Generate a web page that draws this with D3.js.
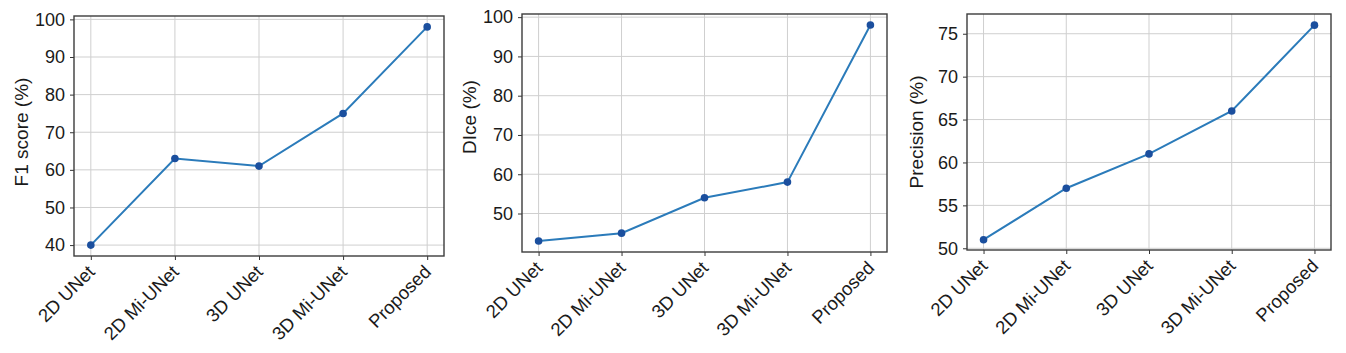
<!DOCTYPE html>
<html><head><meta charset="utf-8">
<script src="https://cdn.jsdelivr.net/npm/d3@7"></script>
<style>body{margin:0;background:#fff}svg{display:block}text{font-family:"Liberation Sans",Arial,sans-serif;fill:#1a1a1a}</style>
</head><body><svg id="c" width="1346" height="353"></svg>
<script>
const categories = ["2D UNet","2D Mi-UNet","3D UNet","3D Mi-UNet","Proposed"];
const f1Values = [40, 63, 61, 75, 98];
const diceValues = [43, 45, 54, 58, 98];
const precisionValues = [51, 57, 61, 66, 76];
const f1Ticks = [40,50,60,70,80,90,100];
const diceTicks = [50,60,70,80,90,100];
const precisionTicks = [50,55,60,65,70,75];
const yLabels = ["F1 score (%)", "DIce (%)", "Precision (%)"];

const panels = [
  {values:f1Values, ticks:f1Ticks, label:yLabels[0], dom:[37.1,100.9], l:74, r:444, t:16, b:256, lx:21, ly:132},
  {values:diceValues, ticks:diceTicks, label:yLabels[1], dom:[40.2,100.8], l:522, r:887, t:14, b:252, lx:469, ly:117},
  {values:precisionValues, ticks:precisionTicks, label:yLabels[2], dom:[49.8,77.3], l:967, r:1331, t:14, b:250, lx:916, ly:132}
];
const svg = d3.select("#c");
panels.forEach(p => {
  const g = svg.append("g");
  const x = d3.scalePoint().domain(categories).range([p.l, p.r]).padding(0.2);
  const y = d3.scaleLinear().domain(p.dom).range([p.b, p.t]);
  // grid
  g.append("g").selectAll("line.gy").data(p.ticks).join("line")
    .attr("x1", p.l).attr("x2", p.r).attr("y1", d=>y(d)).attr("y2", d=>y(d))
    .attr("stroke", "#cfcfcf").attr("stroke-width", 1);
  g.append("g").selectAll("line.gx").data(categories).join("line")
    .attr("x1", d=>x(d)).attr("x2", d=>x(d)).attr("y1", p.t).attr("y2", p.b)
    .attr("stroke", "#cfcfcf").attr("stroke-width", 1);
  // axes
  const ya = g.append("g").attr("transform", `translate(${p.l},0)`)
    .call(d3.axisLeft(y).tickValues(p.ticks).tickSize(4).tickPadding(5));
  ya.attr("font-size", null).attr("font-family", null);
  ya.select(".domain").remove();
  ya.selectAll("text").style("font-size", "18px").attr("fill", "#1a1a1a");
  ya.selectAll("line").attr("stroke", "#333");
  const xa = g.append("g").attr("transform", `translate(0,${p.b})`)
    .call(d3.axisBottom(x).tickSize(4).tickPadding(4));
  xa.attr("font-size", null).attr("font-family", null);
  xa.select(".domain").remove();
  xa.selectAll("line").attr("stroke", "#333");
  xa.selectAll("text").style("font-size", "18.5px").attr("fill", "#1a1a1a")
    .attr("text-anchor", "end").attr("y", 0).attr("dy", 0)
    .attr("transform", "translate(4.5,17) rotate(-45)");
  // frame
  g.append("rect").attr("x", p.l).attr("y", p.t).attr("width", p.r-p.l).attr("height", p.b-p.t)
    .attr("fill", "none").attr("stroke", "#3c3c3c").attr("stroke-width", 1.4);
  // line
  const line = d3.line().x((d,i)=>x(categories[i])).y(d=>y(d));
  g.append("path").datum(p.values).attr("d", line).attr("fill", "none")
    .attr("stroke", "#2b7bba").attr("stroke-width", 2);
  g.selectAll("circle").data(p.values).join("circle")
    .attr("cx", (d,i)=>x(categories[i])).attr("cy", d=>y(d)).attr("r", 3.8).attr("fill", "#1b4f9e");
  // y label
  g.append("text").attr("transform", `translate(${p.lx},${p.ly}) rotate(-90)`)
    .attr("text-anchor", "middle").attr("dominant-baseline", "central")
    .style("font-size", "19px").text(p.label);
});
</script></body></html>
